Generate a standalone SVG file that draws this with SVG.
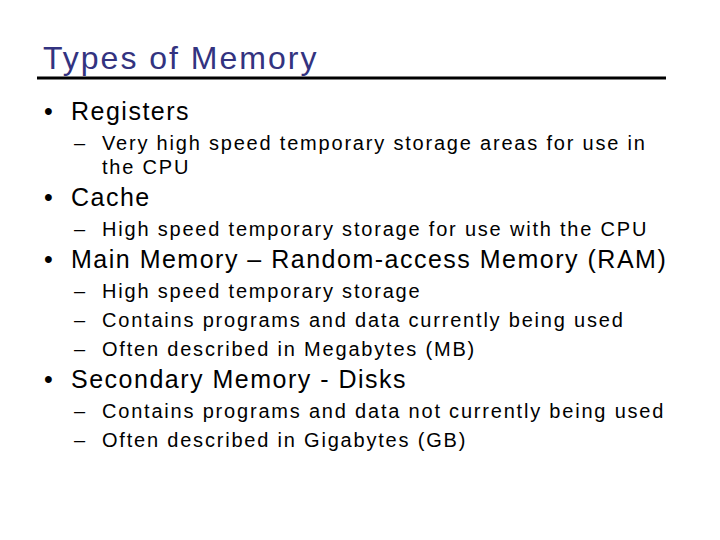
<svg xmlns="http://www.w3.org/2000/svg" width="720" height="540" viewBox="0 0 720 540">
<style>
text{font-family:"Liberation Sans",Arial,sans-serif;fill:#000}
.t{font-size:32px;fill:#333380;letter-spacing:2px}
.b{font-size:25px;letter-spacing:1.5px}
.s{font-size:20px;letter-spacing:1.8px}
</style>
<rect width="720" height="540" fill="#fff"/>
<text class="t" x="43" y="69">Types of Memory</text>
<line x1="37" y1="78" x2="666" y2="78" stroke="#000" stroke-width="3"/>
<g class="b">
<text class="b" x="44" y="120">•</text><text class="b" x="71" y="120">Registers</text>
<text class="b" x="44" y="206">•</text><text class="b" x="71" y="206">Cache</text>
<text class="b" x="44" y="268">•</text><text class="b" x="71" y="268">Main Memory – Random-access Memory (RAM)</text>
<text class="b" x="44" y="388">•</text><text class="b" x="71" y="388">Secondary Memory - Disks</text>
</g>
<text class="s" x="74" y="150">–</text><text class="s" x="102" y="150">Very high speed temporary storage areas for use in</text>
<text class="s" x="102" y="174">the CPU</text>
<text class="s" x="74" y="236">–</text><text class="s" x="102" y="236">High speed temporary storage for use with the CPU</text>
<text class="s" x="74" y="298">–</text><text class="s" x="102" y="298">High speed temporary storage</text>
<text class="s" x="74" y="327">–</text><text class="s" x="102" y="327">Contains programs and data currently being used</text>
<text class="s" x="74" y="356">–</text><text class="s" x="102" y="356">Often described in Megabytes (MB)</text>
<text class="s" x="74" y="418">–</text><text class="s" x="102" y="418">Contains programs and data not currently being used</text>
<text class="s" x="74" y="447">–</text><text class="s" x="102" y="447">Often described in Gigabytes (GB)</text>
</svg>
